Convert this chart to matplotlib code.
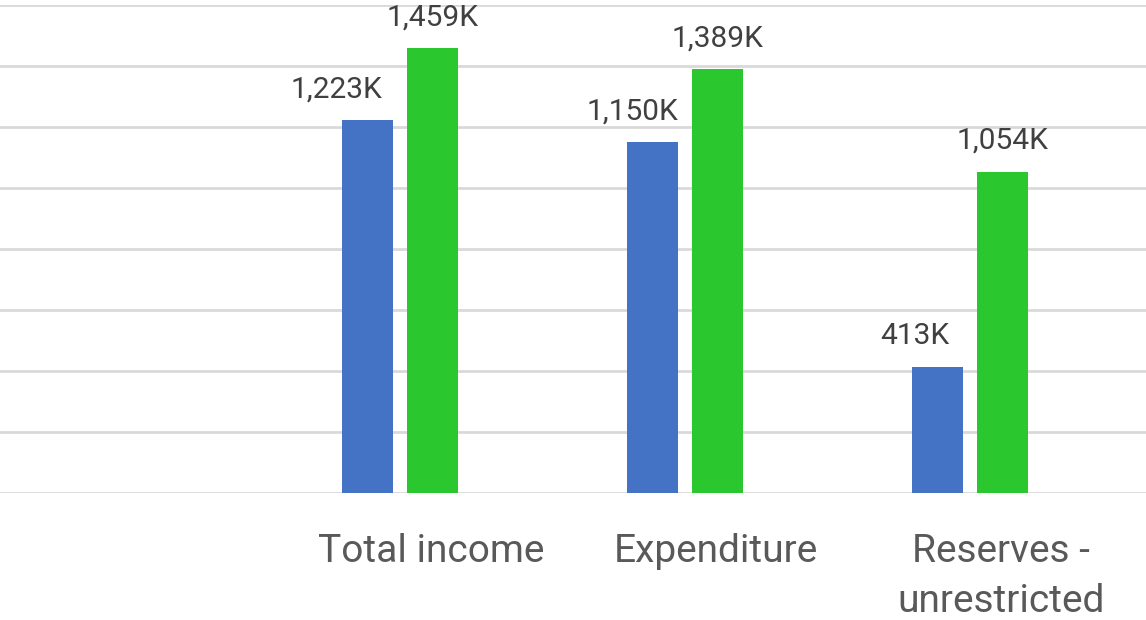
import matplotlib.pyplot as plt
import matplotlib.transforms as mtransforms
import numpy as np

# data (thousands)
categories = ["", "Total income", "Expenditure", "Reserves -\nunrestricted"]
prev_year = [None, 1223, 1150, 413]
this_year = [None, 1459, 1389, 1054]
# data labels of the first series are nudged left in the original (pixels)
prev_label_nudge = [0, -31, -20, -23]

fig = plt.figure(figsize=(11.46, 6.2), dpi=100)
ax = fig.add_axes([0, 1 - 493 / 620, 1, 488 / 620])

x = np.arange(len(categories))
w = 0.179
off = 0.113
for i in range(len(categories)):
    if prev_year[i] is None:
        continue
    ax.bar(x[i] - off, prev_year[i], w, color="#4472C4", zorder=3)
    ax.bar(x[i] + off, this_year[i], w, color="#2BC72F", zorder=3)
    ax.annotate(f"{prev_year[i]:,}K", (x[i] - off, prev_year[i]),
                xytext=(prev_label_nudge[i] * 0.72, 12), textcoords="offset points",
                ha="center", va="bottom", fontsize=21.5, color="#404040",
                family="Roboto")
    ax.annotate(f"{this_year[i]:,}K", (x[i] + off, this_year[i]),
                xytext=(0, 12), textcoords="offset points",
                ha="center", va="bottom", fontsize=21.5, color="#404040",
                family="Roboto")

ax.set_xlim(-0.404, 3.618)
ax.set_ylim(0, 1600)
ax.set_yticks(np.arange(0, 1601, 200))
ax.yaxis.grid(True, color="#D9D9D9", linewidth=2)
ax.set_axisbelow(True)
ax.tick_params(axis="y", left=False, labelleft=False)
ax.tick_params(axis="x", bottom=False, pad=25)
ax.set_xticks(x)
ax.set_xticklabels(categories, fontsize=28, color="#595959", family="Roboto",
                   linespacing=1.45, va="top")
shift = mtransforms.ScaledTranslation(0.31, 0, fig.dpi_scale_trans)
for lab in ax.get_xticklabels():
    lab.set_transform(lab.get_transform() + shift)
for s in ax.spines.values():
    s.set_visible(False)

fig.savefig("out.png", dpi=100)
